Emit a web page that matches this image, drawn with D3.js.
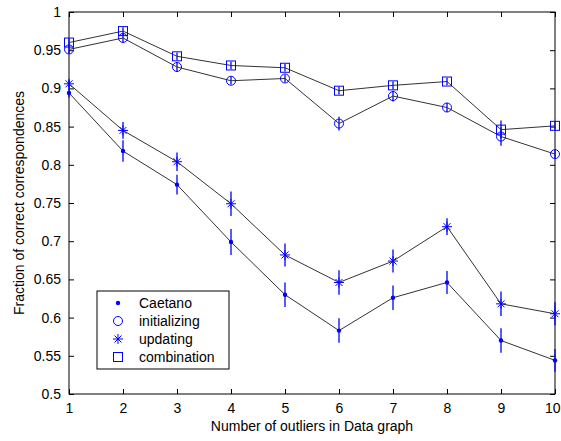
<!DOCTYPE html>
<html><head><meta charset="utf-8">
<script src="https://cdn.jsdelivr.net/npm/d3@7"></script>
<style>body{margin:0;background:#fff}svg{display:block}text{font-family:"Liberation Sans",Arial,sans-serif}</style>
</head><body>
<script>
const xVals = [1,2,3,4,5,6,7,8,9,10];
const caetano = [0.894,0.818,0.774,0.699,0.630,0.583,0.626,0.646,0.570,0.544];
const caetanoErr = [0.006,0.014,0.013,0.017,0.016,0.016,0.016,0.015,0.016,0.015];
const initializing = [0.951,0.966,0.928,0.910,0.913,0.854,0.890,0.875,0.837,0.814];
const initializingErr = [0.005,0.006,0.006,0.005,0.005,0.009,0.007,0.006,0.012,0.005];
const updating = [0.906,0.845,0.804,0.749,0.682,0.646,0.674,0.719,0.618,0.605];
const updatingErr = [0.005,0.011,0.012,0.016,0.015,0.016,0.015,0.011,0.016,0.015];
const combination = [0.960,0.975,0.942,0.930,0.927,0.897,0.904,0.909,0.846,0.851];
const combinationErr = [0.005,0.005,0.005,0.005,0.005,0.005,0.005,0.005,0.012,0.005];
const xTicks = [1,2,3,4,5,6,7,8,9,10];
const yTicks = [0.5,0.55,0.6,0.65,0.7,0.75,0.8,0.85,0.9,0.95,1];
const yTickLabels = ["0.5","0.55","0.6","0.65","0.7","0.75","0.8","0.85","0.9","0.95","1"];
const seriesNames = ["Caetano","initializing","updating","combination"];

const W=561,H=441, L=69, R=555, T=12, B=394;
const FS=14;
const svg=d3.select("body").append("svg").attr("width",W).attr("height",H);
const x=d3.scaleLinear().domain([1,10]).range([L,R]);
const y=d3.scaleLinear().domain([0.5,1]).range([B,T]);
const blue="#0000ff";

svg.append("rect").attr("x",L).attr("y",T).attr("width",R-L).attr("height",B-T).attr("fill","none").attr("stroke","#000").attr("stroke-width",1);
const tl=5;
const axB=svg.append("g").attr("transform",`translate(0,${B})`).call(d3.axisBottom(x).tickValues(xTicks).tickSize(-tl).tickPadding(tl+4).tickFormat(d3.format("d")));
const axT=svg.append("g").attr("transform",`translate(0,${T})`).call(d3.axisTop(x).tickValues(xTicks).tickSize(-tl).tickFormat(""));
const axL=svg.append("g").attr("transform",`translate(${L},0)`).call(d3.axisLeft(y).tickValues(yTicks).tickSize(-tl).tickPadding(tl+3).tickFormat((d,i)=>yTickLabels[i]));
const axR=svg.append("g").attr("transform",`translate(${R},0)`).call(d3.axisRight(y).tickValues(yTicks).tickSize(-tl).tickFormat(""));
[axB,axT,axL,axR].forEach(a=>{a.select(".domain").remove();a.selectAll("line").attr("stroke","#000");a.selectAll("text").attr("font-size",FS).attr("fill","#000").attr("font-family","Liberation Sans, Arial, sans-serif");});
// keep the last x tick label inside the window
axB.selectAll(".tick text").filter(d=>d===10).attr("text-anchor","end").attr("dx",W-R-1);

svg.append("text").attr("x",(L+R)/2).attr("y",431).attr("text-anchor","middle").attr("font-size",FS).text("Number of outliers in Data graph");
svg.append("text").attr("transform",`translate(24,${(T+B)/2}) rotate(-90)`).attr("text-anchor","middle").attr("font-size",FS).text("Fraction of correct correspondences");

const line=d3.line().x((d,i)=>x(xVals[i])).y(d=>y(d));
const series=[
 {v:caetano,e:caetanoErr,m:"dot"},
 {v:initializing,e:initializingErr,m:"circle"},
 {v:updating,e:updatingErr,m:"star"},
 {v:combination,e:combinationErr,m:"square"}];

function marker(g,type,cx,cy){
  if(type==="dot"){g.append("circle").attr("cx",cx).attr("cy",cy).attr("r",2.2).attr("fill",blue);}
  else if(type==="circle"){g.append("circle").attr("cx",cx).attr("cy",cy).attr("r",4.5).attr("fill","none").attr("stroke",blue).attr("stroke-width",1);}
  else if(type==="square"){g.append("rect").attr("x",cx-4.5).attr("y",cy-4.5).attr("width",9).attr("height",9).attr("fill","none").attr("stroke",blue).attr("stroke-width",1);}
  else if(type==="star"){
    const s=5;
    g.append("line").attr("x1",cx-s).attr("x2",cx+s).attr("y1",cy).attr("y2",cy).attr("stroke",blue);
    g.append("line").attr("x1",cx).attr("x2",cx).attr("y1",cy-s).attr("y2",cy+s).attr("stroke",blue);
    const d=s*0.7;
    g.append("line").attr("x1",cx-d).attr("x2",cx+d).attr("y1",cy-d).attr("y2",cy+d).attr("stroke",blue);
    g.append("line").attr("x1",cx-d).attr("x2",cx+d).attr("y1",cy+d).attr("y2",cy-d).attr("stroke",blue);
  }
}

series.forEach(s=>{
  const g=svg.append("g");
  s.v.forEach((v,i)=>{
    g.append("line").attr("x1",x(xVals[i])).attr("x2",x(xVals[i])).attr("y1",y(v-s.e[i])).attr("y2",y(v+s.e[i])).attr("stroke",blue).attr("stroke-width",1.3);
  });
  g.append("path").attr("d",line(s.v)).attr("fill","none").attr("stroke","#333").attr("stroke-width",1);
  s.v.forEach((v,i)=>marker(g,s.m,x(xVals[i]),y(v)));
});

const lg=svg.append("g");
lg.append("rect").attr("x",97).attr("y",291).attr("width",132).attr("height",78).attr("fill","#fff").attr("stroke","#000");
seriesNames.forEach((n,i)=>{
  const cy=303+i*18;
  marker(lg,series[i].m,118,cy);
  lg.append("text").attr("x",139).attr("y",cy+5).attr("font-size",FS).text(n);
});
</script>
</body></html>
